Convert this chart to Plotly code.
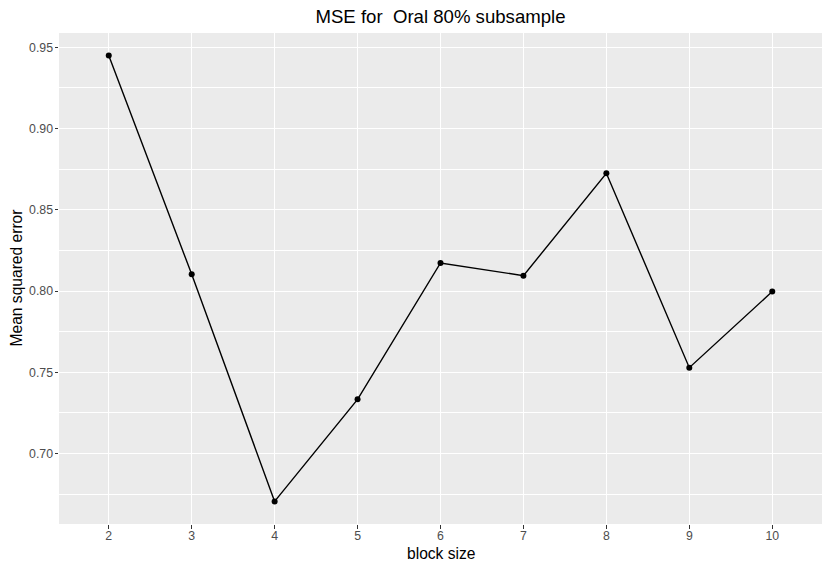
import plotly.graph_objects as go

block_size = [2, 3, 4, 5, 6, 7, 8, 9, 10]
mse = [0.9449, 0.8103, 0.6706, 0.7334, 0.8173, 0.8095, 0.8725, 0.7529, 0.7997]
y_ticks = [0.70, 0.75, 0.80, 0.85, 0.90, 0.95]
title_text = "MSE for  Oral 80% subsample"
x_title = "block size"
y_title = "Mean squared error"

W, H = 830, 571
ml, mr, mt, mb = 59, 8, 33, 47
pw, ph = W - ml - mr, H - mt - mb

fig = go.Figure()
fig.add_trace(go.Scatter(
    x=block_size, y=mse, mode="lines+markers",
    line=dict(color="black", width=1.4),
    marker=dict(color="black", size=6),
    showlegend=False, hoverinfo="skip",
))

font = "Liberation Sans, Arial, Helvetica, sans-serif"
fig.update_layout(
    width=W, height=H,
    margin=dict(l=ml, r=mr, t=mt, b=mb),
    paper_bgcolor="white",
    plot_bgcolor="#EBEBEB",
    font=dict(family=font, color="#4D4D4D"),
    title=dict(text=title_text, x=(ml + pw / 2) / W, xanchor="center",
               xref="container", yref="container", y=1 - 16 / H, yanchor="middle",
               font=dict(size=18.6, color="black", family=font)),
    xaxis=dict(
        range=[1.4, 10.6], tickmode="array", tickvals=block_size,
        ticktext=[str(b) for b in block_size],
        showgrid=True, gridcolor="white", gridwidth=1.1, zeroline=False,
        ticks="outside", ticklen=3.5, tickcolor="#333333", tickwidth=1.1,
        tickfont=dict(size=12.3, color="#4D4D4D"), showline=False,
        ticklabelstandoff=-3,
    ),
    yaxis=dict(
        range=[0.6567, 0.9588], tickmode="array", tickvals=y_ticks,
        ticktext=["%.2f" % v for v in y_ticks],
        showgrid=True, gridcolor="white", gridwidth=1.1, zeroline=False,
        ticks="outside", ticklen=3.5, tickcolor="#333333", tickwidth=1.1,
        tickfont=dict(size=12.3, color="#4D4D4D"), showline=False,
        ticklabelstandoff=-1,
        minor=dict(tickmode="array", tickvals=[0.675, 0.725, 0.775, 0.825, 0.875, 0.925],
                   showgrid=True, gridcolor="white", gridwidth=0.55, ticks=""),
    ),
    annotations=[
        dict(text=x_title, xref="paper", yref="paper", x=0.5, y=(H - mb - 553) / ph,
             xanchor="center", yanchor="middle", showarrow=False,
             font=dict(size=15.6, color="black", family=font)),
        dict(text=y_title, xref="paper", yref="paper", x=(16 - ml) / pw, y=0.5,
             xanchor="center", yanchor="middle", textangle=-90, showarrow=False,
             font=dict(size=15.6, color="black", family=font)),
    ],
)

fig.write_html("out.html", config={"displayModeBar": False},
               post_script="document.body.style.margin='0';document.body.style.padding='0';")
